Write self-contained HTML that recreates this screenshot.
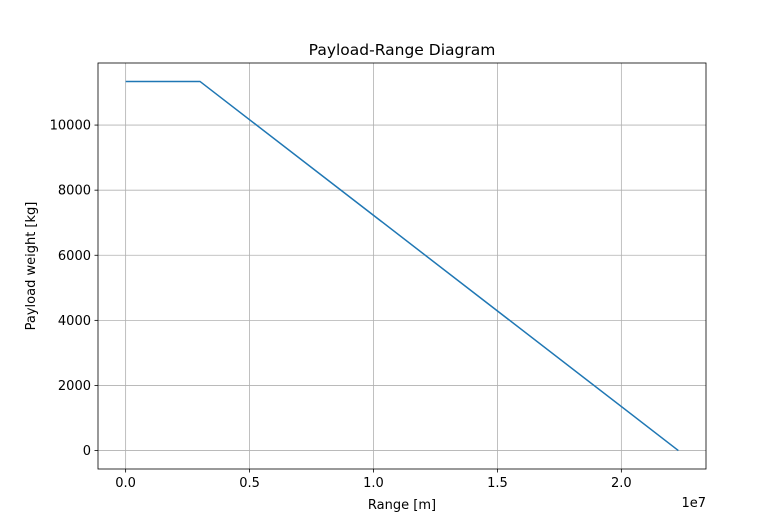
<!DOCTYPE html>
<html><head><meta charset="utf-8"><style>
body{margin:0;background:#fff}
svg text{font-family:"DejaVu Sans","Liberation Sans",sans-serif;fill:#000}
</style></head><body>
<svg id="c" width="784" height="527" xmlns="http://www.w3.org/2000/svg"></svg>
<script>
const xTicks=[0,0.5e7,1.0e7,1.5e7,2.0e7];
const xTickLabels=["0.0","0.5","1.0","1.5","2.0"];
const yTicks=[0,2000,4000,6000,8000,10000];
const yTickLabels=["0","2000","4000","6000","8000","10000"];
const rangeValues=[0,3.0e6,2.23e7];
const payloadValues=[11340,11340,0];

const L=98,R=706,T=63,B=469;
const xmin=-0.1115e7,xmax=2.3415e7,ymin=-567,ymax=11907;
const sx=v=>L+(v-xmin)/(xmax-xmin)*(R-L);
const sy=v=>B-(v-ymin)/(ymax-ymin)*(B-T);
const svg=document.getElementById('c');
const NS='http://www.w3.org/2000/svg';
function mk(tag,attrs,txt){const e=document.createElementNS(NS,tag);for(const k in attrs)e.setAttribute(k,attrs[k]);if(txt!==undefined)e.textContent=txt;svg.appendChild(e);return e;}

xTicks.forEach((v,i)=>{
  const x=sx(v);
  let g=mk('line',{x1:x,x2:x,y1:T,y2:B,stroke:'#b0b0b0','stroke-width':0.8});
  
  
  let t=mk('line',{x1:x,x2:x,y1:B,y2:B+3.5,stroke:'#000','stroke-width':0.8});
  
  
  let l=mk('text',{x:x,y:B+18,'font-size':13,'text-anchor':'middle'},xTickLabels[i]);
  
  
});
yTicks.forEach((v,i)=>{
  const y=sy(v);
  let g=mk('line',{x1:L,x2:R,y1:y,y2:y,stroke:'#b0b0b0','stroke-width':0.8});
  
  
  let t=mk('line',{x1:L-3.5,x2:L,y1:y,y2:y,stroke:'#000','stroke-width':0.8});
  
  
  let l=mk('text',{x:L-7,y:y+4.5,'font-size':13,'text-anchor':'end'},yTickLabels[i]);
  
  
});
const pts=rangeValues.map((r,i)=>sx(r)+','+sy(payloadValues[i])).join(' ');
let line=mk('polyline',{points:pts,fill:'none',stroke:'#1f77b4','stroke-width':1.5});


let fr=mk('rect',{x:L,y:T,width:R-L,height:B-T,fill:'none',stroke:'#000','stroke-width':0.8});


let ti=mk('text',{x:(L+R)/2,y:55,'font-size':15.5,'text-anchor':'middle'},'Payload-Range Diagram');


let xl=mk('text',{x:(L+R)/2,y:509,'font-size':13,'text-anchor':'middle'},'Range [m]');


let yl=mk('text',{x:35,y:266,'font-size':13,'text-anchor':'middle',transform:'rotate(-90 35 266)'},'Payload weight [kg]');


let off=mk('text',{x:706,y:507,'font-size':13,'text-anchor':'end'},'1e7');


</script>
</body></html>
